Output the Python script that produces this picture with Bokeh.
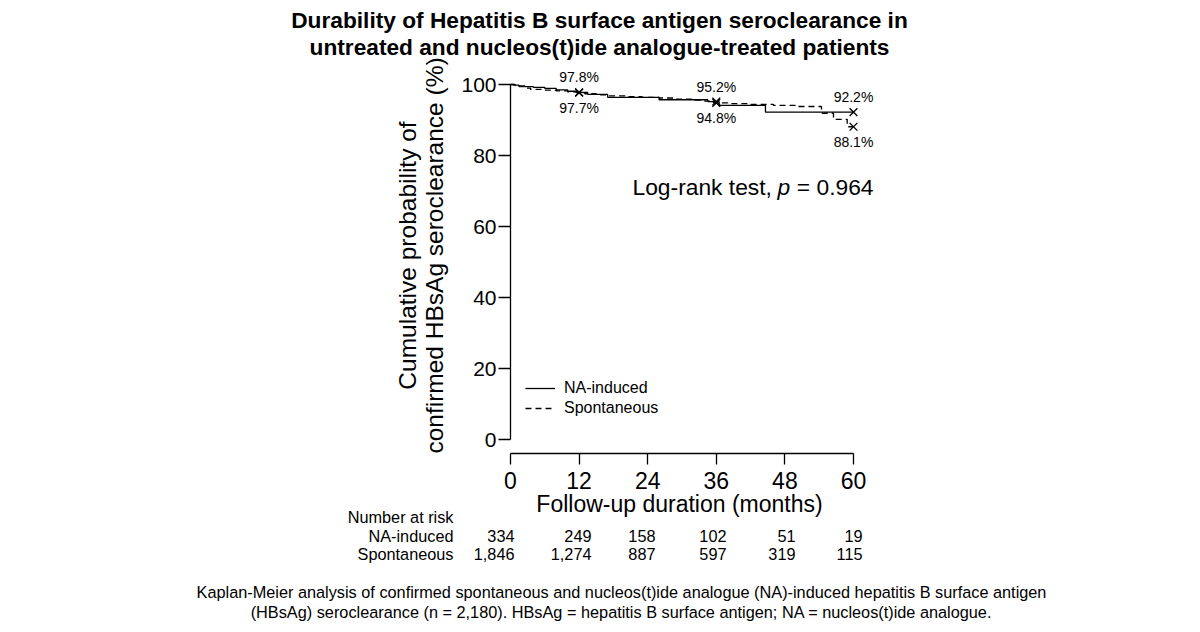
import math

from bokeh.embed import file_html
from bokeh.models import FixedTicker, Label, Legend, LegendItem, LinearAxis, Range1d
from bokeh.plotting import figure
from bokeh.resources import INLINE

FONT = "Liberation Sans"

# Kaplan-Meier estimates: months of follow-up and % with HBsAg seroclearance maintained
na_months = [0, 0.5, 1.5, 2.5, 4, 6, 8, 10, 11.5, 13.5, 17, 26, 34.5, 36.5, 44.6, 60]
na_pct = [100, 99.8, 99.6, 99.4, 99.2, 98.9, 98.5, 98.1, 97.8, 97.2, 96.4, 95.7, 95.2, 94.1, 92.2, 92.2]

sp_months = [0, 0.8, 1.5, 2.5, 3.5, 6, 8, 10, 11.5, 13, 15, 17, 20, 23, 26, 29, 32, 34,
             35.5, 38, 42, 46, 50, 54.4, 56.5, 58.9, 60]
sp_pct = [100, 99.7, 99.4, 99.0, 98.6, 98.4, 98.2, 97.9, 97.7, 97.4, 97.1, 96.8, 96.6, 96.4,
          96.2, 95.9, 95.6, 95.3, 94.8, 94.6, 94.4, 94.1, 93.8, 91.9, 90.2, 88.1, 88.1]

# estimates reported at 1, 3 and 5 years
mark_months = [12, 36, 60]
na_mark_pct = [97.8, 95.2, 92.2]
sp_mark_pct = [97.7, 94.8, 88.1]

x_ticks = [0, 12, 24, 36, 48, 60]
y_ticks = [0, 20, 40, 60, 80, 100]

risk_groups = ["NA-induced", "Spontaneous"]
na_at_risk = ["334", "249", "158", "102", "51", "19"]
sp_at_risk = ["1,846", "1,274", "887", "597", "319", "115"]

# canvas geometry (pixels); the plot frame spans the whole canvas
W, H = 1200, 632
XS = (853 - 510) / 60.0   # px per month
YS = 3.55                 # px per percent
X0, Y0 = 510, 439         # pixel position of (0 months, 0 %)


def dx(px):
    return (px - X0) / XS


def dy(py):
    return (Y0 - py) / YS


p = figure(width=W, height=H, x_range=Range1d(dx(0), dx(W)), y_range=Range1d(dy(H), dy(0)),
           min_border=0, title=None, x_axis_type=None, y_axis_type=None,
           output_backend="svg", toolbar_location=None)
p.outline_line_color = None
p.background_fill_color = "white"
p.border_fill_color = "white"


def style_axis(ax, tick_px, label_px):
    ax.axis_line_color = "black"
    ax.axis_line_width = 1.3
    ax.major_tick_line_color = "black"
    ax.major_tick_line_width = 1.3
    ax.major_tick_out = tick_px
    ax.major_tick_in = 0
    ax.minor_tick_line_color = None
    ax.major_label_text_font = FONT
    ax.major_label_text_font_size = label_px
    ax.major_label_text_color = "black"


yaxis = LinearAxis(ticker=FixedTicker(ticks=y_ticks), bounds=(0, 100), fixed_location=0)
style_axis(yaxis, 12, "21px")
yaxis.major_label_standoff = 2
p.add_layout(yaxis, "left")

# x axis sits a little below the 0 % line
xaxis = LinearAxis(ticker=FixedTicker(ticks=x_ticks), bounds=(0, 60), fixed_location=dy(453))
style_axis(xaxis, 11, "23px")
xaxis.major_label_standoff = 7
p.add_layout(xaxis, "below")

# survival curves
na_line = p.step(na_months, na_pct, mode="after", line_color="black", line_width=1.3)
sp_line = p.step(sp_months, sp_pct, mode="after", line_color="black", line_width=1.3,
                 line_dash="6 4")

p.scatter(mark_months, na_mark_pct, marker="x", size=11, line_color="black", line_width=1.3)
p.scatter(mark_months, sp_mark_pct, marker="x", size=11, line_color="black", line_width=1.3)


def add_text(x, y, text, size, align="center", baseline="middle", style="normal", angle=0.0):
    p.add_layout(Label(x=x, y=y, text=text, text_font=FONT, text_font_size=size,
                       text_font_style=style, text_color="black", text_align=align,
                       text_baseline=baseline, angle=angle))


# value labels above / below the marks
for m, a, b in zip(mark_months, na_mark_pct, sp_mark_pct):
    add_text(m, a + 15 / YS, f"{a}%", "14px")
    add_text(m, b - 15.5 / YS, f"{b}%", "14px")

# log-rank annotation
add_text(dx(632), dy(186), "Log-rank test,", "22.8px", align="left")
add_text(dx(777), dy(186), "p", "22.8px", align="left", style="italic")
add_text(dx(873), dy(186), "= 0.964", "22.8px", align="right")

# x-axis title
add_text(dx(679), dy(503), "Follow-up duration (months)", "23px")

legend = Legend(items=[LegendItem(label=risk_groups[0], renderers=[na_line]),
                       LegendItem(label=risk_groups[1], renderers=[sp_line])],
                location=(525, H - 418), label_text_font=FONT, label_text_font_size="16px",
                label_text_color="black", glyph_width=30, glyph_height=20, label_height=20,
                spacing=0, padding=0, margin=0, label_standoff=9,
                border_line_color=None, background_fill_alpha=0)
p.add_layout(legend)

# title
add_text(dx(599), dy(19), "Durability of Hepatitis B surface antigen seroclearance in", "22.7px", style="bold")
add_text(dx(599), dy(46), "untreated and nucleos(t)ide analogue-treated patients", "22.7px", style="bold")

# y-axis title (two lines)
add_text(dx(407), dy(255), "Cumulative probability of", "24.5px", angle=math.pi / 2)
add_text(dx(434), dy(255), "confirmed HBsAg seroclearance (%)", "24.5px", angle=math.pi / 2)

# number-at-risk table
add_text(dx(453), dy(516), "Number at risk", "16.3px", align="right")
right_edges = [514, 591, 655, 726, 795, 862]
for row, (name, counts) in enumerate(zip(risk_groups, [na_at_risk, sp_at_risk])):
    yrow = dy(535 + 18 * row)
    add_text(dx(453), yrow, name, "16.3px", align="right")
    for xe, c in zip(right_edges, counts):
        add_text(dx(xe), yrow, c, "16.3px", align="right")

# caption
add_text(dx(621), dy(591), "Kaplan-Meier analysis of confirmed spontaneous and nucleos(t)ide analogue "
         "(NA)-induced hepatitis B surface antigen", "16.3px")
add_text(dx(621), dy(611), "(HBsAg) seroclearance (n = 2,180). HBsAg = hepatitis B surface antigen; "
         "NA = nucleos(t)ide analogue.", "16.3px")

open("out.html", "w").write(file_html(p, INLINE))
